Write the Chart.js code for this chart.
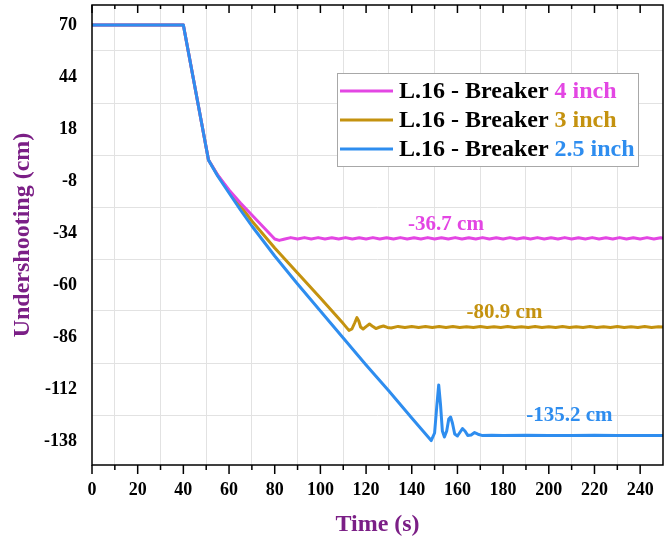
<!DOCTYPE html>
<html lang="en">
<head>
  <meta charset="UTF-8">
  <title>Undershooting - L.16 Breaker</title>
  <script src="https://cdn.jsdelivr.net/npm/chart.js"></script>
  <style>
    body {
      margin: 0;
      background: #ffffff;
    }
    #wrap {
      width: 672px;
      height: 541px;
    }
  </style>
</head>
<body>
  <div id="wrap"><canvas id="chart" width="672" height="541"></canvas></div>

  <script>
    // axis ticks (labels) and the light grid lines between them
    const xLabels = [0, 20, 40, 60, 80, 100, 120, 140, 160, 180, 200, 220, 240];
    const xGrid = [10, 30, 50, 70, 90, 110, 130, 150, 170, 190, 210, 230];
    const yLabels = [-138, -112, -86, -60, -34, -8, 18, 44, 70];
    const yGrid = [-125, -99, -73, -47, -21, 5, 31, 57];

    // L.16 - Breaker 2.5 inch
    const blueT = [0, 40, 51, 55, 60, 65, 70, 80, 90, 100, 110, 120, 130, 140, 148.5,
      150, 151, 151.8, 152.6, 153.4, 154.3, 155.3, 156.2, 157, 157.8, 158.8, 160,
      161.2, 162.2, 163.3, 164.5, 166, 167.5, 169, 171, 175, 180, 190, 200, 210, 220, 230, 240, 250];
    const blueV = [70, 70, 2.5, -5.5, -14, -22.5, -30.5, -45.5, -59.5, -73, -86.5, -100, -113, -126.5, -137.8,
      -134, -120, -110, -120, -133, -136, -133, -127, -126, -129, -134.5, -135.5,
      -133.5, -131.8, -133, -135.2, -135, -133.8, -134.6, -135.3, -135.1, -135.3, -135.1, -135.2, -135.3, -135.1, -135.2, -135.3, -135.2];

    // L.16 - Breaker 3 inch
    const goldT = [0, 40, 51, 55, 60, 65, 70, 80, 90, 100, 110, 112.5, 113.8, 115, 116, 116.8,
      117.6, 118.7, 120, 121.5, 123, 124.3, 126, 127.6, 129.3, 131,
      134, 137, 140, 143, 146, 149, 152, 155, 158, 161, 164, 167, 170, 173, 176, 179, 182, 185,
      188, 191, 194, 197, 200, 203, 206, 209, 212, 215, 218, 221, 224, 227, 230, 233, 236, 239,
      242, 245, 248, 250];
    const goldV = [70, 70, 2.5, -5, -13, -20.5, -28, -41.5, -54, -66.5, -79.3, -82.7, -82, -79, -76.3, -78,
      -81, -82, -80.8, -79.5, -80.8, -81.8, -81, -80.5, -81.2, -81.5,
      -80.7, -81.3, -80.8, -81.2, -80.8, -81.3, -80.8, -81.2, -80.8, -81.2, -80.9, -81.2, -80.8, -81.2, -80.9, -81.2, -80.8, -81.2,
      -80.9, -81.2, -80.8, -81.2, -80.9, -81.2, -80.8, -81.2, -80.9, -81.2, -80.8, -81.2, -80.9, -81.2, -80.8, -81.2, -80.9, -81.2,
      -80.8, -81.2, -80.9, -81.0];

    // L.16 - Breaker 4 inch
    const pinkT = [0, 40, 51, 55, 60, 65, 70, 75, 80, 82, 84, 87, 90, 93, 96, 99, 102, 105, 108, 111,
      114, 117, 120, 123, 126, 129, 132, 135, 138, 141, 144, 147, 150, 153, 156, 159, 162, 165,
      168, 171, 174, 177, 180, 183, 186, 189, 192, 195, 198, 201, 204, 207, 210, 213, 216, 219,
      222, 225, 228, 231, 234, 237, 240, 243, 246, 249, 250];
    const pinkV = [70, 70, 2.5, -5, -12.5, -19, -25, -31, -37, -37.7, -37.1, -36.3, -37.0, -36.3, -37.0, -36.3, -37.0, -36.4, -37.0, -36.3,
      -37.0, -36.4, -37.0, -36.3, -37.0, -36.4, -37.0, -36.3, -37.0, -36.4, -37.0, -36.3, -37.0, -36.4, -37.0, -36.3, -37.0, -36.4,
      -37.0, -36.3, -37.0, -36.4, -37.0, -36.3, -37.0, -36.4, -37.0, -36.3, -37.0, -36.4, -37.0, -36.3, -37.0, -36.4, -37.0, -36.3,
      -37.0, -36.4, -37.0, -36.3, -37.0, -36.4, -37.0, -36.3, -37.0, -36.4, -36.7];

    // value labels next to the settled levels
    const noteText = ['-36.7 cm', '-80.9 cm', '-135.2 cm'];
    const noteX = [155, 180.6, 209];
    const noteY = [-30, -74, -125.5];

    const PINK = '#e346e3';
    const GOLD = '#c4920f';
    const BLUE = '#2e8def';
    const PURPLE = '#7b1f86';
    const SERIF = "'Liberation Serif', 'Times New Roman', serif";
    const noteColor = [PINK, GOLD, BLUE];

    const legendRows = [
      { color: PINK, tail: '4 inch' },
      { color: GOLD, tail: '3 inch' },
      { color: BLUE, tail: '2.5 inch' }
    ];

    function pts(t, v) {
      return t.map((x, i) => ({ x: x, y: v[i] }));
    }

    // frame, tick marks, notes and the legend box
    const decor = {
      id: 'decor',
      afterDatasetsDraw(chart) {
        const c = chart.ctx;
        const xs = chart.scales.x, ys = chart.scales.y;
        c.save();
        c.textAlign = 'center';
        c.textBaseline = 'middle';
        c.font = 'bold 21px ' + SERIF;
        noteText.forEach((txt, i) => {
          c.fillStyle = noteColor[i];
          c.fillText(txt, xs.getPixelForValue(noteX[i]), ys.getPixelForValue(noteY[i]));
        });

        // legend
        const bx = 337, by = 73, bw = 301, bh = 93;
        c.fillStyle = '#ffffff';
        c.fillRect(bx, by, bw, bh);
        c.strokeStyle = '#a8a8a8';
        c.lineWidth = 1;
        c.strokeRect(bx + 0.5, by + 0.5, bw, bh);
        c.font = 'bold 24px ' + SERIF;
        c.textAlign = 'left';
        legendRows.forEach((row, i) => {
          const ry = 91 + i * 29;
          c.strokeStyle = row.color;
          c.lineWidth = 3;
          c.beginPath();
          c.moveTo(340, ry);
          c.lineTo(393, ry);
          c.stroke();
          const head = 'L.16 - Breaker ';
          c.fillStyle = '#000000';
          c.fillText(head, 399, ry + 1);
          c.fillStyle = row.color;
          c.fillText(row.tail, 399 + c.measureText(head).width, ry + 1);
        });
        c.restore();
      },
      afterDraw(chart) {
        const c = chart.ctx;
        const a = chart.chartArea;
        const xs = chart.scales.x;
        c.save();
        c.strokeStyle = '#000000';
        c.lineWidth = 1.5;
        c.strokeRect(a.left, a.top, a.right - a.left, a.bottom - a.top);
        c.beginPath();
        xLabels.forEach(v => {
          const px = xs.getPixelForValue(v);
          c.moveTo(px, a.bottom); c.lineTo(px, a.bottom + 9);
          c.moveTo(px, a.top); c.lineTo(px, a.top + 8);
        });
        xGrid.forEach(v => {
          const px = xs.getPixelForValue(v);
          c.moveTo(px, a.bottom); c.lineTo(px, a.bottom + 5);
          c.moveTo(px, a.top); c.lineTo(px, a.top + 4);
        });
        c.stroke();
        c.restore();
      }
    };

    new Chart(document.getElementById('chart'), {
      type: 'line',
      data: {
        datasets: [
          { label: 'L.16 - Breaker 2.5 inch', data: pts(blueT, blueV), borderColor: BLUE },
          { label: 'L.16 - Breaker 4 inch', data: pts(pinkT, pinkV), borderColor: PINK },
          { label: 'L.16 - Breaker 3 inch', data: pts(goldT, goldV), borderColor: GOLD }
        ]
      },
      options: {
        responsive: false,
        animation: false,
        devicePixelRatio: 1,
        layout: { padding: { top: 5, right: 9, left: 0, bottom: 0 } },
        elements: {
          point: { radius: 0 },
          line: { borderWidth: 3, tension: 0, borderJoinStyle: 'round', fill: false }
        },
        plugins: {
          legend: { display: false },
          tooltip: { enabled: false }
        },
        scales: {
          x: {
            type: 'linear',
            min: 0,
            max: 250,
            afterBuildTicks: s => { s.ticks = xLabels.concat(xGrid).sort((p, q) => p - q).map(v => ({ value: v })); },
            afterFit: s => { s.height = 76; s.paddingLeft = 0; s.paddingRight = 0; },
            border: { display: false },
            grid: {
              drawTicks: false,
              color: ctx => (ctx.tick && xGrid.includes(ctx.tick.value)) ? '#e2e2e2' : 'rgba(0,0,0,0)'
            },
            ticks: {
              autoSkip: false,
              maxRotation: 0,
              padding: 15,
              color: '#000000',
              font: { family: SERIF, size: 18, weight: 'bold' },
              callback: v => xLabels.includes(v) ? String(v) : ''
            },
            title: {
              display: true,
              text: 'Time (s)',
              color: PURPLE,
              font: { family: SERIF, size: 24, weight: 'bold' },
              padding: { top: 0, bottom: 2 }
            }
          },
          y: {
            type: 'linear',
            min: -150,
            max: 80,
            afterBuildTicks: s => { s.ticks = yLabels.concat(yGrid).sort((p, q) => p - q).map(v => ({ value: v })); },
            afterFit: s => { s.width = 92; s.paddingTop = 0; s.paddingBottom = 0; },
            border: { display: false },
            grid: {
              drawTicks: false,
              color: ctx => (ctx.tick && yGrid.includes(ctx.tick.value)) ? '#e2e2e2' : 'rgba(0,0,0,0)'
            },
            ticks: {
              autoSkip: false,
              padding: 15,
              color: '#000000',
              font: { family: SERIF, size: 18, weight: 'bold' },
              callback: v => yLabels.includes(v) ? String(v) : ''
            },
            title: {
              display: true,
              text: 'Undershooting (cm)',
              color: PURPLE,
              font: { family: SERIF, size: 24, weight: 'bold' },
              padding: { top: 8, bottom: 0 }
            }
          }
        }
      },
      plugins: [decor]
    });
  </script>
</body>
</html>
